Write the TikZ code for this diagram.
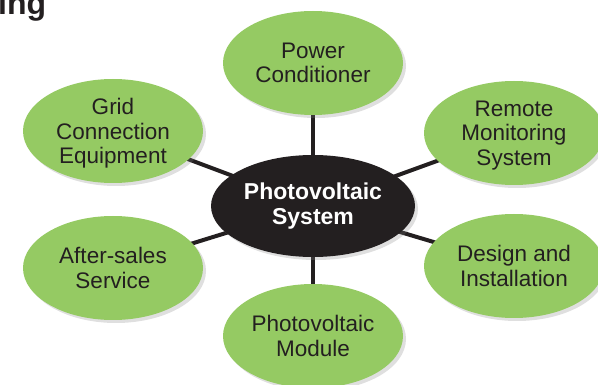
\documentclass[tikz,border=0pt]{standalone}
\usepackage{fontspec}
\setmainfont{Liberation Sans}
\usepackage{tikz}
\usetikzlibrary{shapes.geometric,shadows,backgrounds}
\definecolor{verde}{HTML}{95CA63}
\definecolor{nero}{HTML}{231F20}

\begin{document}
\begin{tikzpicture}[x=1pt, y=-1pt,
          % Stile dei nodi esterni (ellissi verdi)
          nodo/.style={
              ellipse,
              fill=verde,
              minimum width=180pt,
              minimum height=104pt,
              inner sep=0pt,
              align=center,
              text=nero,
              text depth=0pt,
              font=\fontsize{22.5}{24.5}\selectfont,
              drop shadow={opacity=0.25, shadow xshift=3pt, shadow yshift=-3pt}
          },
          % Stile del nodo centrale
          centro/.style={
              ellipse,
              fill=nero,
              minimum width=204pt,
              minimum height=102pt,
              inner sep=0pt,
              align=center,
              text=white,
              font=\fontsize{23}{25}\bfseries\selectfont,
              drop shadow={opacity=0.25, shadow xshift=3pt, shadow yshift=-3pt}
          },
          % Stile dei collegamenti
          collegamento/.style={
              draw=nero,
              line width=4pt
          }
      ]
          \useasboundingbox (0,0) rectangle (598,385);

          % 1. Titolo tagliato in alto a sinistra
          \node [anchor=base west, inner sep=0pt, text=nero, font=\fontsize{32}{32}\bfseries\selectfont] (titolo) at (-2,15) {ing};

          % 2. Nodo centrale
          \node [centro] (sistema) at (313,206) {Photovoltaic\\System};

          % 3. Nodi esterni
          \node [nodo] (condizionatore) at (313,63) {Power\\Conditioner};
          \node [nodo] (rete) at (113,131) {Grid\\Connection\\Equipment};
          \node [nodo] (monitoraggio) at (514,133) {Remote\\Monitoring\\System};
          \node [nodo] (assistenza) at (113,268) {After-sales\\Service};
          \node [nodo] (progetto) at (514,266) {Design and\\Installation};
          \node [nodo] (modulo) at (313,336) {Photovoltaic\\Module};

          % 4. Collegamenti dal centro verso i nodi esterni
          \begin{pgfonlayer}{background}
              \foreach \n in {condizionatore, rete, monitoraggio, assistenza, progetto, modulo}
                  \draw [collegamento] (sistema.center) -- (\n.center);
          \end{pgfonlayer}

      \end{tikzpicture}
\end{document}
